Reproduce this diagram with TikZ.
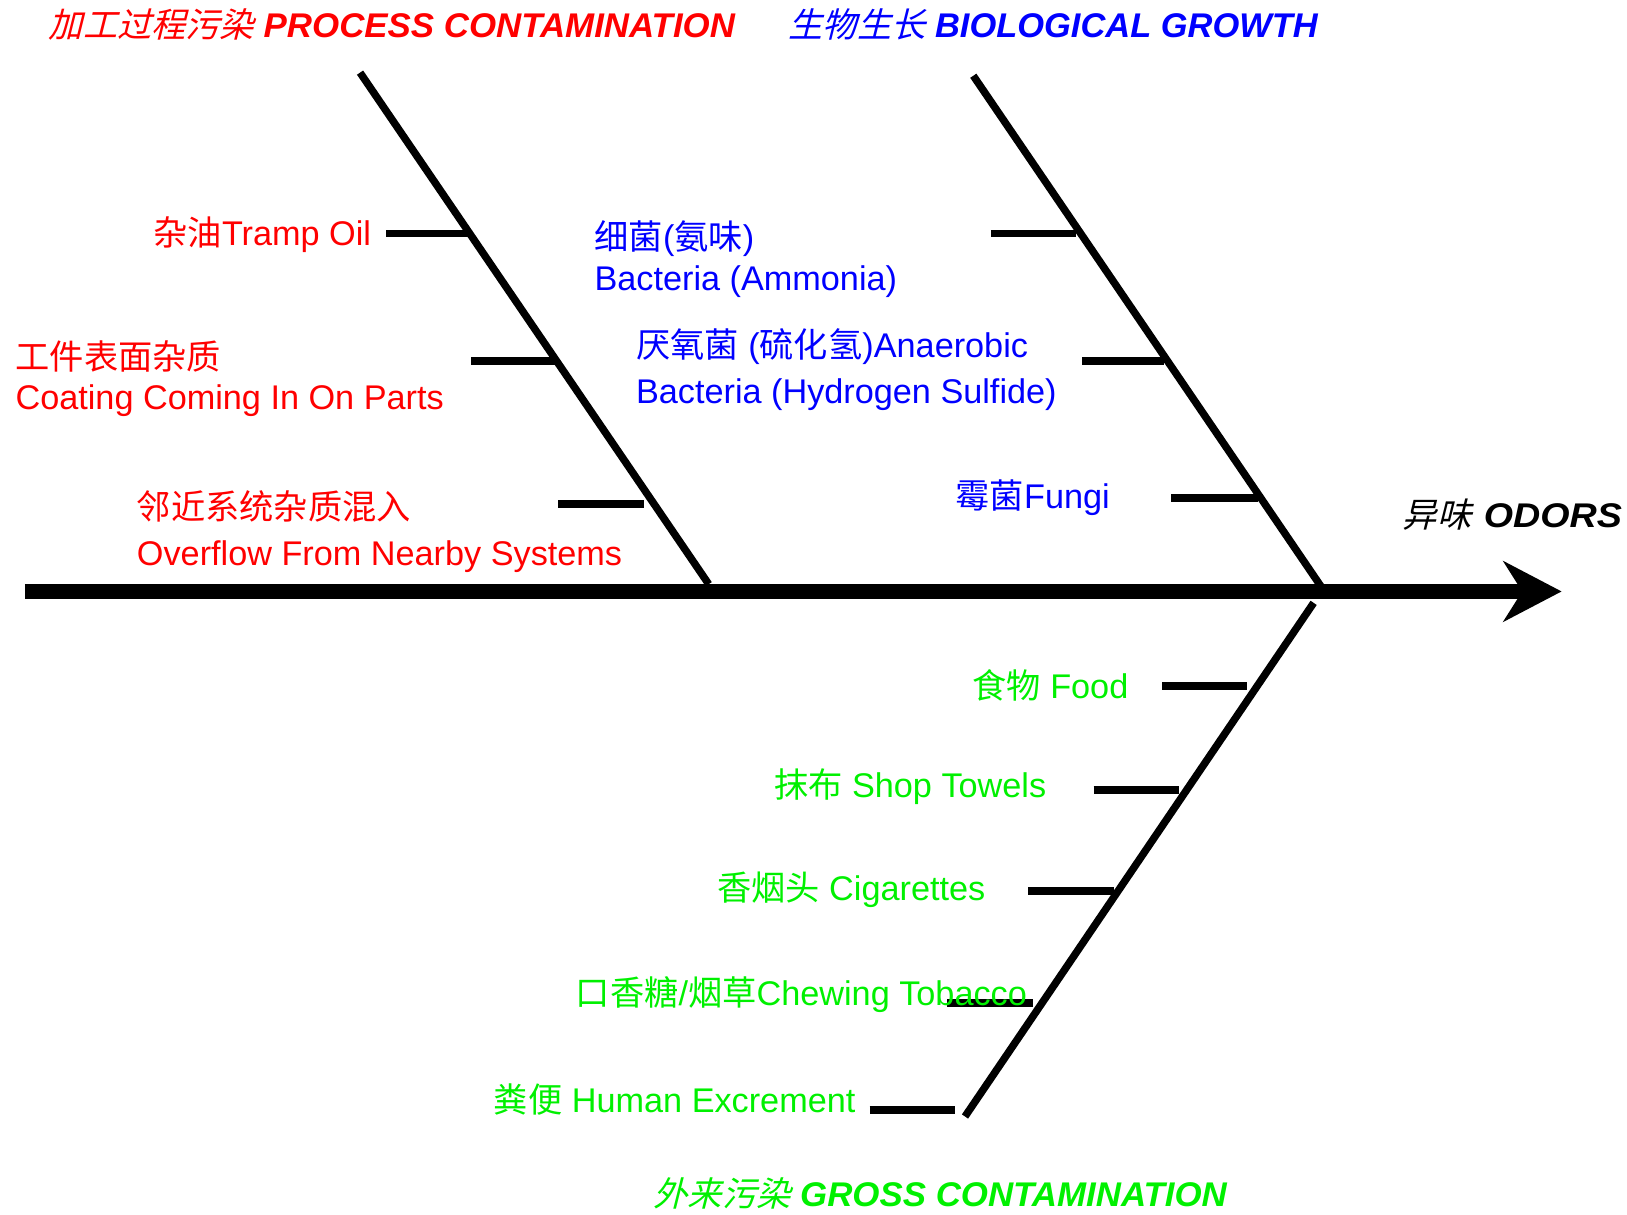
\documentclass[tikz,border=0pt]{standalone}
\usepackage{fontspec}
\setmainfont{Liberation Sans}
\newfontfamily\cjk{Noto Sans CJK SC}
\newfontfamily\cjkit[FakeSlant=0.25]{Noto Sans CJK SC}
\usetikzlibrary{arrows.meta}
\definecolor{pred}{RGB}{255,0,0}
\definecolor{bblue}{RGB}{0,0,255}
\definecolor{ggreen}{RGB}{0,240,0}
\newcommand{\zh}[1]{{\cjk #1}}
\newcommand{\zhi}[1]{{\mdseries\upshape\cjkit #1}}
\newcommand{\wide}[2]{\scalebox{#1}[1]{#2}}
\begin{document}
\begin{tikzpicture}[x=0.5pt,y=-0.5pt,
  every node/.style={inner sep=0pt,outer sep=0pt,anchor=base west,
    font=\fontsize{16.5}{19.8}\selectfont},
  spine/.style={line width=7pt,-{Stealth[length=28pt,width=29pt,inset=9pt]}},
  bone/.style={line width=3.6pt},
  rib/.style={line width=3.8pt},
  title/.style={font=\fontsize{16.5}{19.8}\selectfont\bfseries\itshape},
  redlbl/.style={text=pred},
  bluelbl/.style={text=bblue},
  greenlbl/.style={text=ggreen}]
\useasboundingbox (0,0) rectangle (1568,1170);

% main spine and its head
\coordinate (tail) at (24,570);
\coordinate (head) at (1505,570);
\draw[spine] (tail) -- (head);

% category bones
\coordinate (b1s) at (347,70);   \coordinate (b1e) at (683,563);
\coordinate (b2s) at (938,73);   \coordinate (b2e) at (1275,568);
\coordinate (b3s) at (1266,581); \coordinate (b3e) at (930,1076);
\draw[bone] (b1s) -- (b1e);
\draw[bone] (b2s) -- (b2e);
\draw[bone] (b3s) -- (b3e);

% cause ribs
\foreach \n/\xa/\xb/\y in {
  p1/372/452/225, p2/454/535/348, p3/538/621/486,
  g1/955/1037/225, g2/1043/1122/348, g3/1129/1212/480,
  c1/1120/1202/661, c2/1054/1136/761, c3/991/1074/859,
  c4/913/996/967, c5/838/920/1070}{
  \coordinate (\n a) at (\xa,\y);
  \coordinate (\n b) at (\xb,\y);
  \draw[rib] (\n a) -- (\n b);
}

% category titles
\node[title,text=pred] (tproc) at (47,36) {\zhi{加工过程污染} \wide{1.018}{PROCESS CONTAMINATION}};
\node[title,text=bblue] (tbio) at (760,36) {\zhi{生物生长} \wide{1.006}{BIOLOGICAL GROWTH}};
\node[title,text=black] (todor) at (1352,508) {\zhi{异味}\kern6pt\wide{1.1}{ODORS}};
\node[title,text=ggreen] (tgross) at (630,1163) {\zhi{外来污染} \wide{1.018}{GROSS CONTAMINATION}};

% process contamination causes
\node[redlbl] (l1) at (148,237) {\zh{杂油}Tramp Oil};
\node[redlbl] (l2a) at (15,356) {\zh{工件表面杂质}};
\node[redlbl] (l2b) at (15,395) {Coating Coming In On Parts};
\node[redlbl] (l3a) at (132,501) {\zh{邻近系统杂质混入}};
\node[redlbl] (l3b) at (132,545) {Overflow From Nearby Systems};

% biological growth causes
\node[bluelbl] (m1a) at (573,240) {\zh{细菌}(\zh{氨味})};
\node[bluelbl] (m1b) at (573,280) {Bacteria (Ammonia)};
\node[bluelbl] (m2a) at (613,345) {\zh{厌氧菌} (\zh{硫化氢})Anaerobic};
\node[bluelbl] (m2b) at (613,389) {Bacteria (Hydrogen Sulfide)};
\node[bluelbl] (m3) at (921,490) {\zh{霉菌}Fungi};

% gross contamination causes
\node[greenlbl] (n1) at (937,673) {\zh{食物} Food};
\node[greenlbl] (n2) at (746,769) {\zh{抹布} Shop Towels};
\node[greenlbl] (n3) at (691,868) {\zh{香烟头} Cigarettes};
\node[greenlbl] (n4) at (555,969) {\zh{口香糖}/\zh{烟草}Chewing Tobacco};
\node[greenlbl] (n5) at (476,1072) {\zh{粪便} Human Excrement};
\end{tikzpicture}
\end{document}
